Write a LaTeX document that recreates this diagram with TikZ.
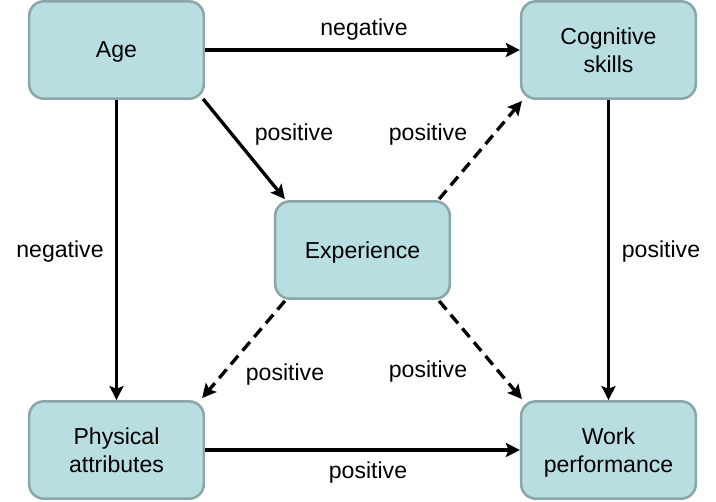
\documentclass[tikz,border=0pt]{standalone}
\usepackage{fontspec}
\setmainfont{Liberation Sans}
\usetikzlibrary{arrows.meta,calc}
\definecolor{boxfill}{HTML}{B8DEE2}
\definecolor{boxline}{HTML}{8AA6A9}
\tikzset{
  box/.style={draw=boxline, fill=boxfill, line width=1.9pt, rounded corners=11pt,
    minimum width=131pt, minimum height=73pt, align=center, text depth=0pt,
    font=\fontsize{17.3}{21.5}\selectfont, inner sep=0pt},
  lbl/.style={font=\fontsize{17.3}{21.5}\selectfont, inner sep=0pt, anchor=base},
  arr/.style={line width=2.5pt, -{Stealth[length=10.5pt,width=10.5pt,inset=2pt]}},
  darr/.style={arr, dash pattern=on 8.5pt off 5pt}
}
\begin{document}
\begin{tikzpicture}[x=0.75pt,y=-0.75pt]
\useasboundingbox (0,0) rectangle (716,501);
\node[box] (age) at (116.5,50) {Age};
\node[box] (cog) at (608.5,50) {Cognitive\\skills};
\node[box] (exp) at (362.5,250) {Experience};
\node[box] (phys) at (116.5,450) {Physical\\attributes};
\node[box] (work) at (608.5,450) {Work\\performance};

\draw[arr] (age.east) -- (cog.west);
\draw[arr] (age.south) -- (phys.north);
\draw[arr] (cog.south) -- (work.north);
\draw[arr] (phys.east) -- (work.west);
\draw[arr] ($(age.south east)+(-2,-1)$) -- ($(exp.north west)+(11,-1)$);
\draw[darr] ($(exp.north east)+(-12,-1)$) -- ($(cog.south west)+(2,1)$);
\draw[darr] ($(exp.south west)+(11,1)$) -- ($(phys.north east)+(-3,-2)$);
\draw[darr] ($(exp.south east)+(-12,1)$) -- ($(work.north west)+(2,-1)$);

\node[lbl] (l1) at (364,35) {negative};
\node[lbl] (l2) at (60,257) {negative};
\node[lbl] (l3) at (294,140) {positive};
\node[lbl] (l4) at (428,140) {positive};
\node[lbl] (l5) at (285,380) {positive};
\node[lbl] (l6) at (428,377) {positive};
\node[lbl] (l7) at (661,257) {positive};
\node[lbl] (l8) at (368,478) {positive};
\end{tikzpicture}
\end{document}
